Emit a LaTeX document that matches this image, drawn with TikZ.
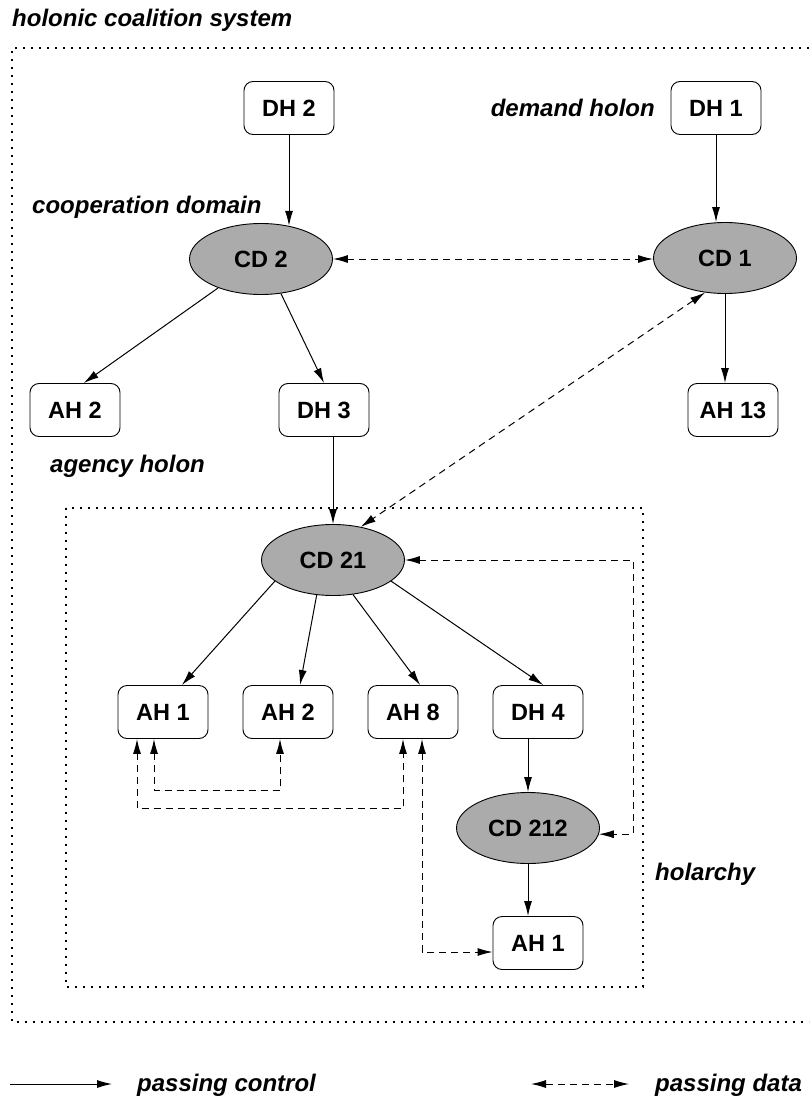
\documentclass[tikz,border=0pt]{standalone}
\usepackage{fontspec}
\setmainfont{Liberation Sans}
\usetikzlibrary{shapes.geometric,arrows.meta,calc}

\begin{document}
\begin{tikzpicture}[x=1pt, y=-1pt,
  hol/.style = {draw, rounded corners=9pt, minimum width=90pt, minimum height=53pt, line width=0.9pt, font=\fontsize{23.5}{27}\selectfont\bfseries},
  cd/.style = {draw, ellipse, fill=black!33, minimum width=143pt, minimum height=71pt, inner sep=0pt, line width=0.9pt, font=\fontsize{23.5}{27}\selectfont\bfseries},
  lbl/.style = {font=\fontsize{24}{28}\selectfont\bfseries\itshape, inner sep=0pt},
  ctrl/.style = {-{Latex[length=15pt,width=8pt]}, line width=1pt},
  data/.style = {{Latex[length=15pt,width=8pt]}-{Latex[length=15pt,width=8pt]}, line width=1pt, dash pattern=on 7pt off 5pt},
  frame/.style = {line width=1.8pt, dash pattern=on 1.8pt off 6.2pt}]
\useasboundingbox (0,0) rectangle (809,1102);

% frames and their labels
\draw[frame] (809,48) -- (12,48) -- (12,1022) -- (809,1022);
\draw[frame] (66,508) rectangle (643,987);
\node[lbl, anchor=base west] (sys) at (12,27) {holonic coalition system};
\node[lbl, anchor=base west] (coop) at (32,213) {cooperation domain};
\node[lbl, anchor=base east] (dem) at (655,117) {demand holon};
\node[lbl, anchor=base west] (agy) at (50,472) {agency holon};
\node[lbl, anchor=base west] (hola) at (655,880) {holarchy};

% upper level
\node[hol] (dh2) at (289,108) {DH 2};
\node[hol] (dh1) at (716,108) {DH 1};
\node[cd] (cd2) at (261,259) {CD 2};
\node[cd] (cd1) at (725,258) {CD 1};
\node[hol] (ah2a) at (75,410) {AH 2};
\node[hol] (dh3) at (324,410) {DH 3};
\node[hol] (ah13) at (733,410) {AH 13};

% holarchy
\node[cd] (cd21) at (333,560) {CD 21};
\node[hol] (ah1) at (163,712) {AH 1};
\node[hol] (ah2) at (288,712) {AH 2};
\node[hol] (ah8) at (413,712) {AH 8};
\node[hol] (dh4) at (538,712) {DH 4};
\node[cd] (cd212) at (528,828) {CD 212};
\node[hol] (ah1b) at (538,943) {AH 1};
\coordinate (rt) at (633,0);

% passing control
\draw[ctrl] (dh2.south) -- (dh2.south |- cd2.50);
\draw[ctrl] (dh1.south) -- (dh1.south |- cd1.north);
\draw[ctrl] (cd1.south) -- (cd1.south |- ah13.north);
\draw[ctrl] (cd2.214) -- (ah2a.72);
\draw[ctrl] (cd2.-60) -- (dh3.north);
\draw[ctrl] (cd21.north |- dh3.south) -- (cd21.north);
\draw[ctrl] (cd21.200) -- (ah1.55);
\draw[ctrl] (cd21.245) -- (ah2.66);
\draw[ctrl] (cd21.-60) -- (ah8.75);
\draw[ctrl] (cd21.-20) -- (dh4.79);
\draw[ctrl] (cd212.north |- dh4.south) -- (cd212.north);
\draw[ctrl] (cd212.south) -- (cd212.south |- ah1b.north);

% passing data
\draw[data] (cd2.east) -- (cd2.east -| cd1.west);
\draw[data] (cd1.240) -- (cd21.50);
\draw[data] (cd21.east) -- (cd21.east -| rt) |- (cd212.-5);
\draw[data] ($(ah1.south)+(-9,0)$) -- ++(0,52) -| ($(ah2.south)+(-8,0)$);
\draw[data] ($(ah1.south)+(-26,0)$) -- ++(0,70) -| ($(ah8.south)+(-10,0)$);
\draw[data] ($(ah8.south)+(9,0)$) |- ($(ah1b.west)+(0,9)$);

% legend
\coordinate (c0) at (10,1084);
\coordinate (c1) at (112,1084);
\draw[ctrl] (c0) -- (c1);
\node[lbl, anchor=base west] (ctrltxt) at (137,1091) {passing control};
\coordinate (d0) at (531,1084);
\coordinate (d1) at (629,1084);
\draw[data] (d0) -- (d1);
\node[lbl, anchor=base west] (datatxt) at (655,1091) {passing data};
\end{tikzpicture}
\end{document}
